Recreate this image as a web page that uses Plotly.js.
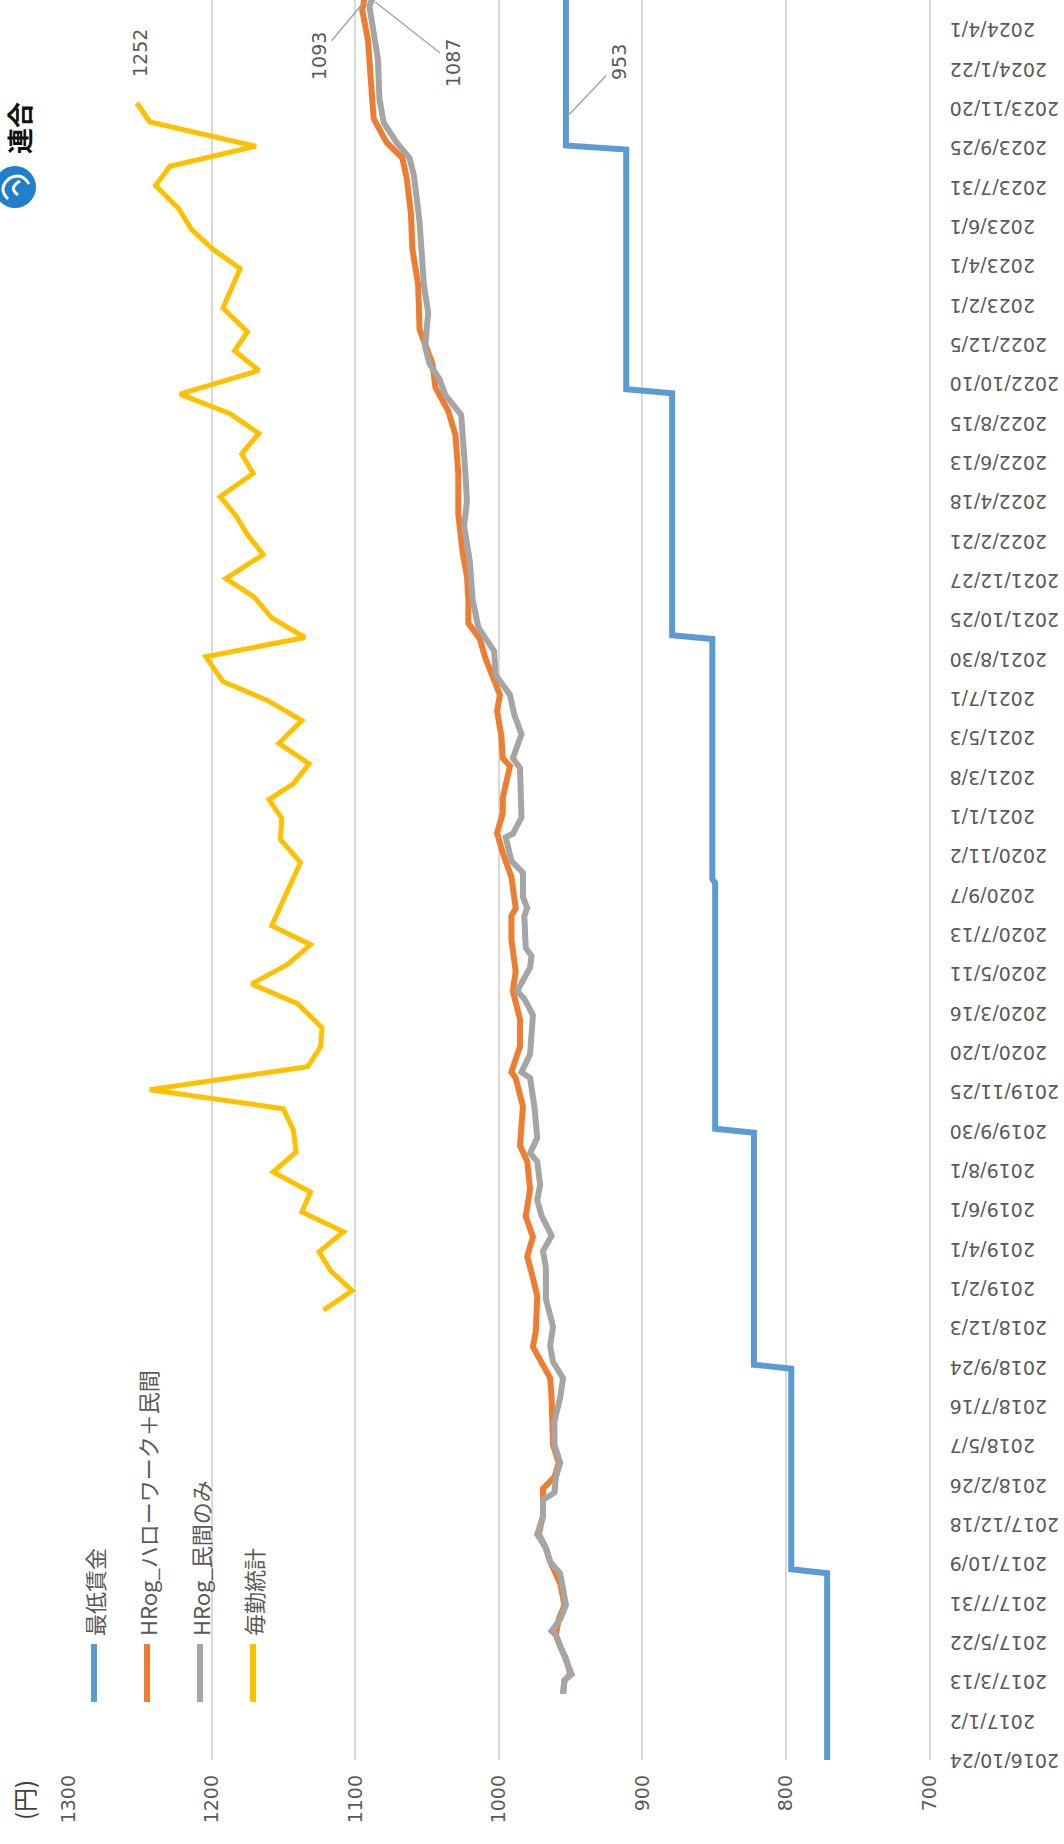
<!DOCTYPE html>
<html>
<head>
<meta charset="utf-8">
<script src="https://cdn.plot.ly/plotly-3.0.1.min.js"></script>
<style>
  html, body { margin:0; padding:0; background:#fff; overflow:hidden; }
  #frame { position:relative; width:1064px; height:1844px; overflow:hidden; background:#fff; }
  #chart { position:absolute; left:0; top:0; width:1844px; height:1064px;
           transform-origin:0 0; transform: translate(0px,1844px) rotate(-90deg); }
</style>
</head>
<body>
<div id="frame"><div id="chart"></div></div>
<script>
// ---- category labels (one label every 10 weekly categories; x unit = one label step)
const dateLabels = ["2016/10/24","2017/1/2","2017/3/13","2017/5/22","2017/7/31","2017/10/9","2017/12/18",
  "2018/2/26","2018/5/7","2018/7/16","2018/9/24","2018/12/3","2019/2/1","2019/4/1","2019/6/1","2019/8/1",
  "2019/9/30","2019/11/25","2020/1/20","2020/3/16","2020/5/11","2020/7/13","2020/9/7","2020/11/2",
  "2021/1/1","2021/3/8","2021/5/3","2021/7/1","2021/8/30","2021/10/25","2021/12/27","2022/2/21",
  "2022/4/18","2022/6/13","2022/8/15","2022/10/10","2022/12/5","2023/2/1","2023/4/1","2023/6/1",
  "2023/7/31","2023/9/25","2023/11/20","2024/1/22","2024/4/1"];

// ---- 最低賃金
const minWageX = [0,4.75,4.85,9.95,10.05,15.95,16.05,22.3,22.4,28.5,28.6,34.75,34.85,40.95,41.05,44.85];
const minWageY = [771,771,796,796,822,822,849,849,851,851,879,879,911,911,953,953];

// ---- HRog_ハローワーク＋民間
const hwX = [1.68,2.03,2.18,2.58,2.88,3.18,3.58,3.94,4.49,5.04,5.39,5.74,6.2,6.9,7.2,7.56,8.01,8.62,9.21,9.71,
  10.2,10.5,10.9,11.8,12.4,12.8,13.3,13.82,14.52,15.22,15.62,16.62,17.34,17.49,18.14,18.84,19.55,20.05,20.85,
  21.46,21.66,22.45,23.06,23.57,24.07,24.47,25.27,25.47,26.03,26.67,27.08,28.0,28.5,28.9,29.5,30.1,30.7,31.68,
  32.69,33.69,34.3,34.9,35.5,36.37,37.51,38.42,39.32,40.23,40.73,41.13,41.74,42.54,43.74,44.5,44.85];
const hwY = [955,954,950,953,957,960,958,954,957,964,967,972,969,969,961,958,962,962,963,964,
  971,976,974,973,977,980,976,981,978,980,985,983,988,991,985,985,990,988,991,
  991,988,991,997,1001,997,997,992,997,998,1001,999,1009,1013,1021,1021,1022,1025,1028,
  1028,1030,1035,1044,1046,1055,1056,1060,1061,1064,1067,1078,1087,1089,1091,1095,1093];

// ---- HRog_民間のみ
const prX = [1.68,2.03,2.18,2.58,2.88,3.18,3.28,3.58,3.94,4.49,4.74,5.04,5.39,5.74,6.2,6.61,6.8,7.2,7.56,8.01,
  8.62,9.21,9.71,10.12,10.52,11.02,11.73,12.53,12.94,13.33,13.84,14.24,14.62,15.22,15.43,15.82,16.62,17.34,
  17.49,17.94,18.94,19.35,19.55,20.15,20.44,20.65,21.46,21.66,21.95,22.56,22.86,23.46,23.55,23.96,24.27,
  25.22,25.47,26.08,26.58,27.08,27.59,28.19,28.79,29.07,29.5,30.0,30.48,31.38,32.0,32.69,33.2,33.69,34.2,
  34.7,35.1,35.5,35.9,36.4,36.8,37.51,38.2,39.1,39.72,40.3,40.73,41.13,41.63,42.24,43.24,44.24,44.6,44.85];
const prY = [955,954,949,953,957,960,963,957,953,956,957,964,967,973,969,969,961,960,957,961,
  961,957,955,962,964,962,967,967,969,963,970,973,971,973,978,973,975,978,
  984,978,976,982,987,978,977,981,982,980,983,983,991,995,990,984,984,
  985,990,984,989,992,1002,1003,1014,1016,1018,1019,1020,1024,1022,1023,1024,1025,1026,
  1037,1041,1048,1051,1050,1049,1052,1053,1055,1057,1059,1062,1071,1080,1083,1084,1088,1090,1087];

// ---- 毎勤統計
const mkX = [11.44,11.93,12.44,12.92,13.43,13.93,14.44,14.95,15.46,16.02,16.56,17.04,17.63,18.13,18.62,19.23,
  19.73,20.23,20.73,21.21,21.86,22.82,23.41,23.94,24.42,24.82,25.33,25.85,26.43,26.94,27.42,28.05,28.54,
  29.04,29.56,30.04,30.65,31.16,31.64,32.12,32.71,33.21,33.73,34.23,34.73,35.33,35.83,36.31,36.92,37.92,
  38.41,38.92,39.45,40.03,40.52,41.03,41.65,42.13];
const mkY = [1122,1102,1117,1125,1108,1137,1131,1157,1141,1143,1150,1243,1133,1124,1123,1140,
  1172,1147,1131,1158,1150,1138,1152,1151,1160,1143,1132,1153,1137,1161,1192,1204,1135,
  1158,1170,1190,1164,1175,1183,1194,1171,1179,1167,1187,1222,1167,1184,1175,1192,1180,
  1199,1214,1223,1239,1229,1169,1243,1252];

const seriesNames = ["最低賃金","HRog_ハローワーク＋民間","HRog_民間のみ","毎勤統計"];
const seriesColors = ["#5B9BD5","#ED7D31","#A5A5A5","#FFC000"];

// ---- geometry of the (unrotated) chart
const W = 1844, H = 1064, L = 84, T = 68, PW = 1760, PH = 861;
const XMAX = PW / 39.33;
const px = x => (x - L) / PW;
const py = y => 1 - (y - T) / PH;

const mk = (x, y, i, w) => ({
  x: x, y: y, type: 'scatter', mode: 'lines', name: seriesNames[i], showlegend: false,
  line: {color: seriesColors[i], width: w}, hoverinfo: 'skip'
});
const data = [
  mk(minWageX, minWageY, 0, 6),
  mk(hwX, hwY, 1, 6),
  mk(prX, prY, 2, 6),
  mk(mkX, mkY, 3, 5)
];

const lab = {family: 'DejaVu Sans', size: 19, color: '#595959'};
const shapes = [];
const annotations = [];

// legend (drawn manually to match the long line samples)
const legY = [94, 147, 200, 253];
seriesNames.forEach((n, i) => {
  shapes.push({type: 'line', xref: 'paper', yref: 'paper', x0: px(142), x1: px(200), y0: py(legY[i]), y1: py(legY[i]),
    line: {color: seriesColors[i], width: 6}});
  annotations.push({xref: 'paper', yref: 'paper', x: px(206), y: py(legY[i]), xanchor: 'left', yanchor: 'middle',
    text: n, showarrow: false, font: {family: 'Noto Sans CJK JP', size: 22, color: '#595959'}});
});

// unit label
annotations.push({xref: 'paper', yref: 'paper', x: px(44), y: py(24), xanchor: 'center', yanchor: 'middle',
  text: '(円)', showarrow: false, font: {family: 'Noto Sans CJK JP', size: 24, color: '#404040'}});

// data labels
const lastMk = mkX.length - 1;
annotations.push({x: mkX[lastMk], y: mkY[lastMk], text: String(mkY[lastMk]), showarrow: false,
  xshift: 50, yshift: -3, font: lab});
const lastHw = hwX.length - 1, lastPr = prX.length - 1;
const edgeX = XMAX - 0.02;
annotations.push({x: Math.min(hwX[lastHw], edgeX), y: hwY[lastHw], text: String(hwY[lastHw]), showarrow: true,
  arrowhead: 0, arrowwidth: 1.5, arrowcolor: '#A6A6A6', ax: -55, ay: -46, standoff: 2, font: lab});
annotations.push({x: Math.min(prX[lastPr], edgeX), y: prY[lastPr], text: String(prY[lastPr]), showarrow: true,
  arrowhead: 0, arrowwidth: 1.5, arrowcolor: '#A6A6A6', ax: -62, ay: 79, standoff: 2, font: lab});
annotations.push({x: 41.75, y: minWageY[minWageY.length - 1], text: String(minWageY[minWageY.length - 1]),
  showarrow: true, arrowhead: 0, arrowwidth: 1.5, arrowcolor: '#A6A6A6', ax: 56, ay: 53, standoff: 3, font: lab});

// logo (連合)
shapes.push({type: 'circle', xref: 'paper', yref: 'paper', x0: px(1636), x1: px(1678), y0: py(36), y1: py(-6),
  fillcolor: '#1F7FCB', line: {width: 0}});
shapes.push({type: 'path', xref: 'paper', yref: 'paper',
  path: `M ${px(1645)} ${py(8)} Q ${px(1656)} ${py(-3)} ${px(1666)} ${py(10)} Q ${px(1672)} ${py(22)} ${px(1660)} ${py(29)}`,
  line: {color: '#ffffff', width: 3}});
shapes.push({type: 'path', xref: 'paper', yref: 'paper',
  path: `M ${px(1649)} ${py(18)} Q ${px(1656)} ${py(8)} ${px(1663)} ${py(20)}`,
  line: {color: '#ffffff', width: 3}});
annotations.push({xref: 'paper', yref: 'paper', x: px(1716), y: py(18), xanchor: 'center', yanchor: 'middle',
  text: '<b>連合</b>', showarrow: false, font: {family: 'Noto Sans CJK JP', size: 26, color: '#111111'}});

const layout = {
  width: W, height: H,
  margin: {l: L, r: W - L - PW, t: T, b: H - T - PH, pad: 0},
  paper_bgcolor: '#ffffff', plot_bgcolor: '#ffffff',
  font: {family: 'DejaVu Sans', color: '#595959'},
  showlegend: false,
  xaxis: {
    type: 'linear', range: [0, XMAX], tickmode: 'array',
    tickvals: dateLabels.map((d, i) => i), ticktext: dateLabels,
    tickangle: -90, tickfont: {family: 'DejaVu Sans', size: 19, color: '#595959'},
    showgrid: false, zeroline: false, showline: true, linecolor: '#D9D9D9', linewidth: 2,
    ticks: '', ticklabelstandoff: 11, fixedrange: true
  },
  yaxis: {
    range: [700, 1300], tickmode: 'linear', tick0: 700, dtick: 100,
    tickfont: lab, gridcolor: '#D9D9D9', gridwidth: 2, zeroline: false, showline: false,
    ticks: '', ticklabelstandoff: 14, fixedrange: true
  },
  shapes: shapes,
  annotations: annotations
};

Plotly.newPlot('chart', data, layout, {displayModeBar: false, staticPlot: true});
</script>
</body>
</html>
